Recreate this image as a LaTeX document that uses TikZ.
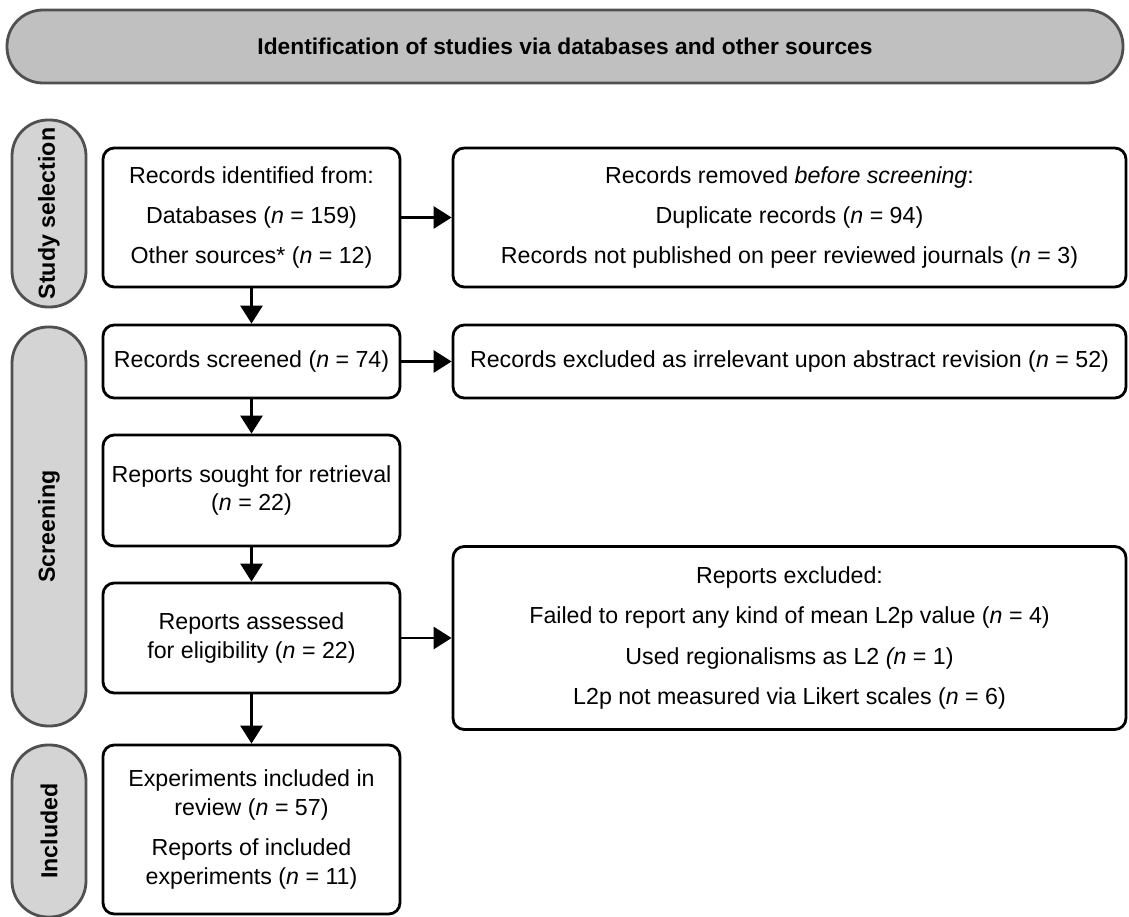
\documentclass[tikz,border=0pt]{standalone}
\usepackage{fontspec}
\setmainfont{Liberation Sans}
\usepackage{tikz}
\usetikzlibrary{arrows.meta, positioning}
\definecolor{bandgray}{RGB}{192, 192, 192}
\definecolor{phasegray}{RGB}{212, 212, 212}
\definecolor{edgegray}{RGB}{80, 80, 80}

\begin{document}
\begin{tikzpicture}[
  flowbox/.style={draw=black, line width=2pt, fill=white, rounded corners=8pt, align=center, inner sep=2pt, font=\fontsize{16.5}{20.5}\selectfont},
  phase/.style={draw=edgegray, line width=2pt, fill=phasegray, rounded corners=0.9cm, rotate=90, minimum height=1.85cm, inner sep=0pt, font=\fontsize{16.5}{20}\selectfont\bfseries},
  flow/.style={-{Triangle[length=0.45cm, width=0.55cm]}, line width=2pt}
]
  \useasboundingbox (0, 0) rectangle (28.225, -22.925);

  % Header band
  \node[draw=edgegray, line width=2pt, fill=bandgray, rounded corners=0.9cm, minimum width=27.9cm, minimum height=1.825cm, font=\fontsize{16.2}{20}\selectfont\bfseries] (head) at (14.125, -1.1625) {Identification of studies via databases and other sources};

  % Phase labels
  \node[phase, minimum width=4.675cm] (selphase) at (1.225, -5.3375) {Study selection};
  \node[phase, minimum width=9.975cm] (scrphase) at (1.225, -13.1625) {Screening};
  \node[phase, minimum width=4.3cm] (incphase) at (1.225, -20.775) {Included};

  % Main column
  \node[flowbox, minimum width=7.425cm, minimum height=3.475cm] (recid) at (6.2875, -5.4375) {
    Records identified from:\\[8pt]
    Databases (\textit{n} = 159)\\[8pt]
    Other sources* (\textit{n} = 12)
  };
  \node[flowbox, minimum width=7.425cm, minimum height=1.825cm] (recscr) at (6.2875, -9.0375) {Records screened (\textit{n} = 74)};
  \node[flowbox, minimum width=7.425cm, minimum height=2.775cm] (repsought) at (6.2875, -12.2625) {
    Reports sought for retrieval\\(\textit{n} = 22)
  };
  \node[flowbox, minimum width=7.425cm, minimum height=2.75cm] (repassess) at (6.2875, -15.95) {
    Reports assessed\\for eligibility (\textit{n} = 22)
  };
  \node[flowbox, minimum width=7.425cm, minimum height=4.225cm] (included) at (6.2875, -20.7375) {
    Experiments included in\\review (\textit{n} = 57)\\[8pt]
    Reports of included\\experiments (\textit{n} = 11)
  };

  % Side column
  \node[flowbox, minimum width=16.825cm, minimum height=3.475cm] (recrem) at (19.7375, -5.4375) {
    Records removed \textit{before screening}:\\[8pt]
    Duplicate records (\textit{n} = 94)\\[8pt]
    Records not published on peer reviewed journals (\textit{n} = 3)
  };
  \node[flowbox, minimum width=16.825cm, minimum height=1.825cm] (recexcl) at (19.7375, -9.0375) {Records excluded as irrelevant upon abstract revision (\textit{n} = 52)};
  \node[flowbox, minimum width=16.825cm, minimum height=4.575cm] (repexcl) at (19.7375, -15.95) {
    Reports excluded:\\[8pt]
    Failed to report any kind of mean L2p value (\textit{n} = 4)\\[8pt]
    Used regionalisms as L2 \textit{(n} = 1)\\[8pt]
    L2p not measured via Likert scales (\textit{n} = 6)
  };

  % Connectors
  \draw[flow] (recid) -- (recscr);
  \draw[flow] (recscr) -- (repsought);
  \draw[flow] (repsought) -- (repassess);
  \draw[flow] (repassess) -- (included);
  \draw[flow] (recid) -- (recrem);
  \draw[flow] (recscr) -- (recexcl);
  \draw[flow] (repassess) -- (repexcl);
\end{tikzpicture}
\end{document}
